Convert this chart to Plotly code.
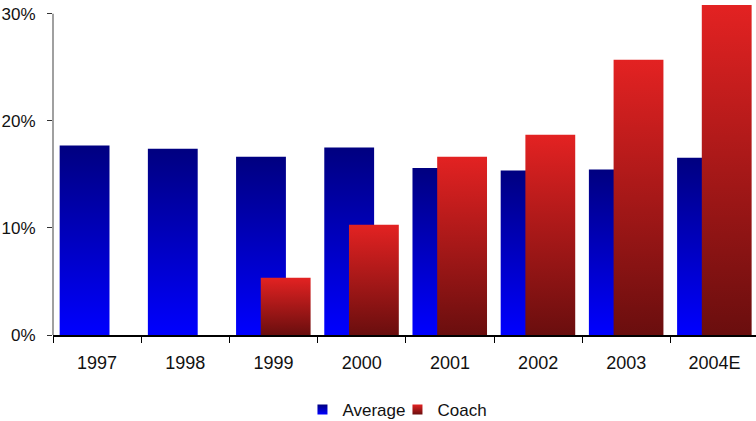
import plotly.graph_objects as go

# ---- data ----
categories = ["1997", "1998", "1999", "2000", "2001", "2002", "2003", "2004E"]
average = [0.177, 0.174, 0.1665, 0.175, 0.156, 0.1535, 0.1545, 0.1655]
coach = [None, None, 0.0535, 0.103, 0.1665, 0.187, 0.257, 0.308]
y_ticks = [0, 0.1, 0.2, 0.3]
y_ticktext = ["0%", "10%", "20%", "30%"]

# ---- style ----
FONT = "Liberation Sans, Arial, sans-serif"
BAR_W = 0.565
series = [
    ("Average", average, -0.142, "#000080", "#0000FF"),   # name, values, offset, top, bottom
    ("Coach", coach, 0.138, "#E32222", "#6A0E0E"),
]

fig = go.Figure()
for name, vals, off, top, bottom in series:
    for i, v in enumerate(vals):
        if v is None:
            continue
        c = i + off
        xs = [c - BAR_W / 2, c + BAR_W / 2, c + BAR_W / 2, c - BAR_W / 2, c - BAR_W / 2]
        ys = [0, 0, v, v, 0]
        fig.add_trace(go.Scatter(
            x=xs, y=ys, fill="toself", mode="lines",
            line=dict(width=0, color=top),
            fillgradient=dict(type="vertical", colorscale=[[0, bottom], [1, top]]),
            showlegend=False, name=name, legendgroup=name,
            hoverinfo="text", text=f"{name} {categories[i]}: {v:.1%}",
        ))

# legend entries (gradient squares)
for name, vals, off, top, bottom in series:
    fig.add_trace(go.Scatter(
        x=[None], y=[None], mode="markers", name=name, legendgroup=name,
        marker=dict(symbol="square", size=10, color=top,
                    gradient=dict(type="vertical", color=bottom), line=dict(width=0)),
    ))

fig.add_shape(type="line", xref="paper", yref="y", x0=0, x1=0, y0=0, y1=0.3,
              line=dict(color="#808080", width=1.5), layer="above")

fig.update_layout(
    width=756, height=421,
    margin=dict(l=53, r=0, t=2, b=86, autoexpand=False),
    paper_bgcolor="white", plot_bgcolor="white",
    font=dict(family=FONT, size=17, color="#111111"),
    showlegend=True,
    legend=dict(orientation="h", x=0.49, xanchor="center", y=-0.225, yanchor="middle",
                font=dict(size=17), itemwidth=30, entrywidth=50,
                bgcolor="rgba(0,0,0,0)"),
    xaxis=dict(
        range=[-0.5, 7.47], tickmode="array", tickvals=list(range(len(categories))),
        ticktext=categories, ticks="", showgrid=False, zeroline=False,
        showline=True, linecolor="#000000", linewidth=1.5,
        ticklabelstandoff=11, tickfont=dict(size=18), automargin=False,
        minor=dict(tickmode="array", tickvals=[i + 0.5 for i in range(-1, len(categories))],
                   ticks="outside", ticklen=6, tickcolor="#000000", tickwidth=1, showgrid=False),
        fixedrange=True,
    ),
    yaxis=dict(
        range=[0, 0.3109], tickmode="array", tickvals=y_ticks, ticktext=y_ticktext,
        ticks="outside", ticklen=5, tickcolor="#333333", tickwidth=1,
        showgrid=False, zeroline=False, showline=False, ticklabelstandoff=8,
        automargin=False, fixedrange=True,
    ),
)

fig.write_html("out.html")
